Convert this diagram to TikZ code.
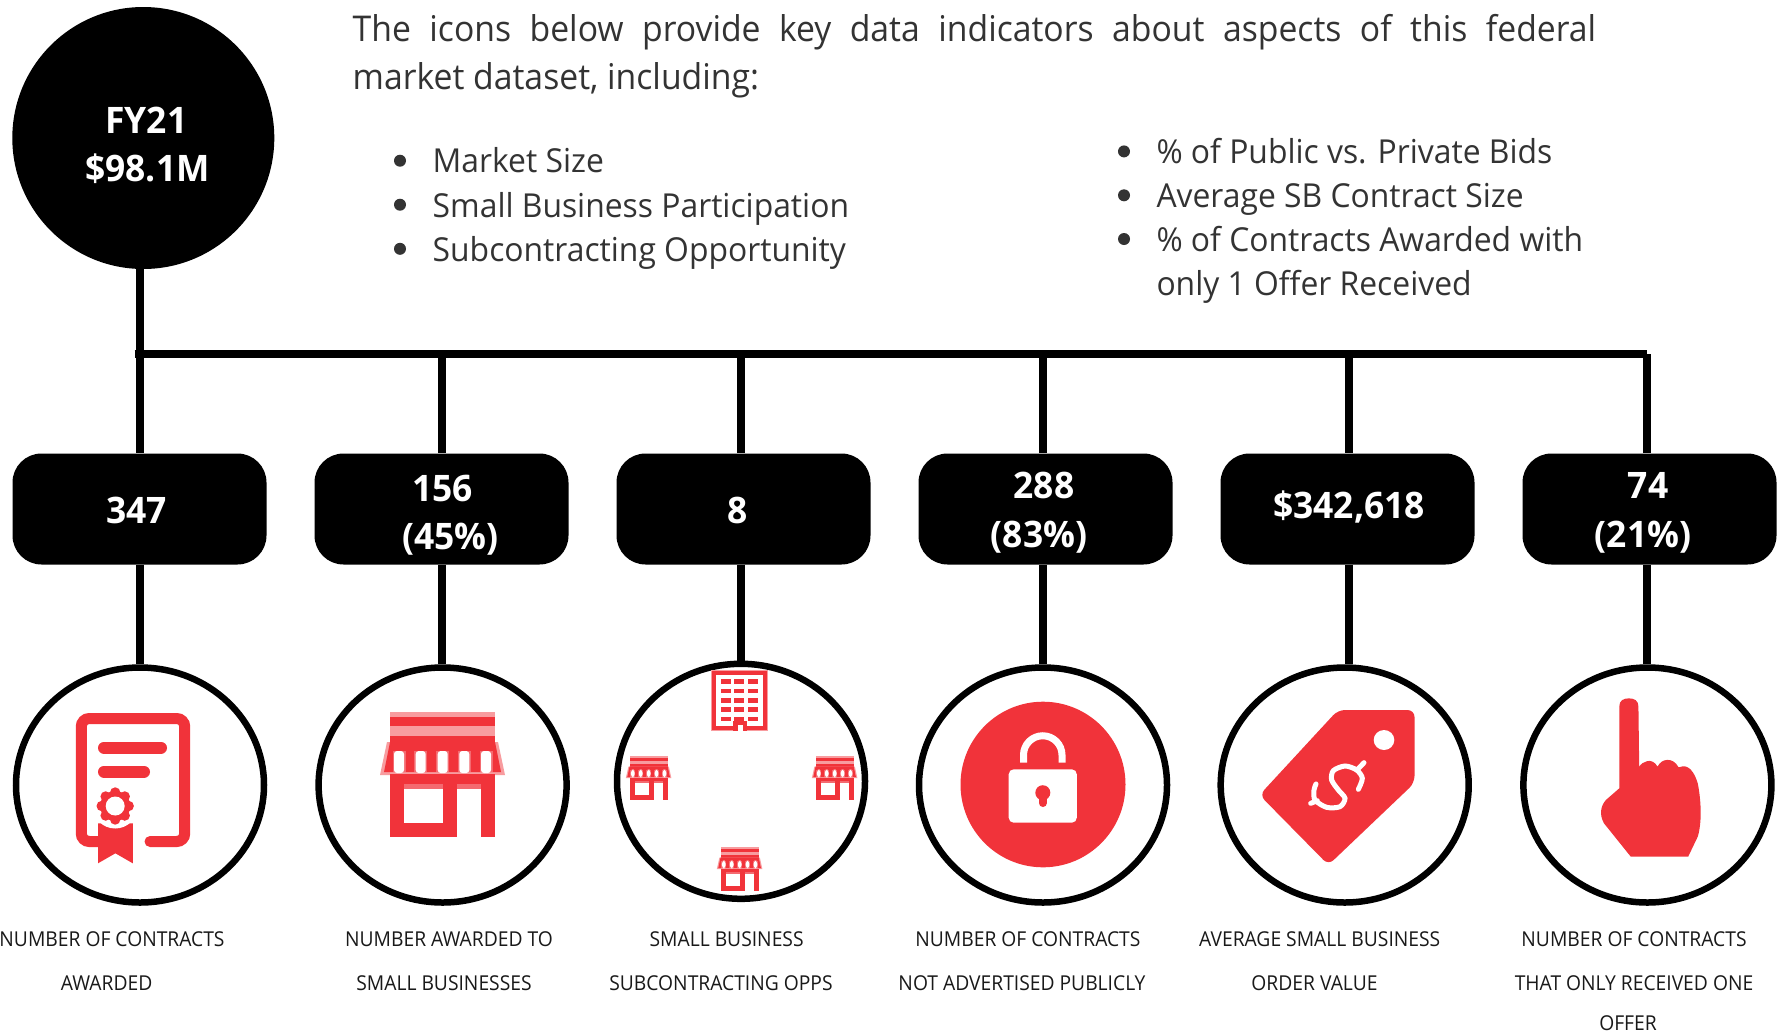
\documentclass[tikz,border=0pt]{standalone}
\usepackage{fontspec}
\usetikzlibrary{shapes.geometric}
\setmainfont{Open Sans}
\newfontfamily\introf[FakeStretch=0.95]{Open Sans}
\newfontfamily\listf[FakeStretch=0.965]{Open Sans}
\newfontfamily\labf[FakeStretch=0.94]{Open Sans}
\newfontfamily\boldf[FakeStretch=0.97]{Open Sans Bold}
\definecolor{ired}{HTML}{F1333A}
\definecolor{ilight}{HTML}{F89C9F}
\definecolor{ipink}{HTML}{F46A70}
\definecolor{itext}{HTML}{333333}
\tikzset{
  x=1pt,y=-1pt,
  bigtxt/.style={anchor=base west,text=itext,inner sep=0pt,font=\introf\fontsize{35.5}{40}\selectfont},
  listtxt/.style={anchor=base west,text=itext,inner sep=0pt,font=\listf\fontsize{33}{40}\selectfont},
  dotmark/.style={circle,fill=itext,draw=none,minimum size=12pt,inner sep=0pt},
  valtxt/.style={anchor=base,text=white,inner sep=0pt,font=\boldf\fontsize{36.5}{40}\selectfont},
  labtxt/.style={anchor=base,text=black!90,inner sep=0pt,font=\labf\fontsize{20.5}{24}\selectfont},
  valbox/.style={draw=none,fill=black,rounded corners=29pt,minimum width=254pt,minimum height=111pt,inner sep=0pt},
  iconring/.style={ellipse,draw=black,line width=6.5pt,fill=none,minimum width=248pt,minimum height=235pt,inner sep=0pt},
  link/.style={draw=black,line width=7.5pt},
  pics/storeicon/.style={code={
    \fill[ilight] (0,0) rectangle (105,24);
    \fill[ired] (0,4.7) rectangle (105,14);
    \fill[ired] (0,24) rectangle (105,38);
    \fill[ilight] (-3,30) -- (108,30) -- (115,63) -- (-10,63) -- cycle;
    \fill[ired] (0,30) -- (105,30) -- (111,60) -- (-6,60) -- cycle;
    \foreach \c in {9,30.7,52.7,74.3,96}{
      \fill[ipink] (\c-6.5,39) rectangle (\c+6.5,60);
      \fill[white,rounded corners=3pt] (\c-5,39) rectangle (\c+5,61);
    }
    \fill[ired] (0,62) rectangle (105,125);
    \fill[ipink] (14,72) rectangle (53,77);
    \fill[ipink] (67,72) rectangle (91,77);
    \fill[white] (14,77) rectangle (53,111);
    \fill[white] (67,77) rectangle (91,125);
  }}
}
\begin{document}
\begin{tikzpicture}
\useasboundingbox (0,0) rectangle (1783,1034);
\fill[white] (0,0) rectangle (1783,1034);

% top circle
\node[ellipse,fill=black,minimum width=262pt,minimum height=262pt,inner sep=0pt] (top) at (143.3,138) {};
\node[valtxt] (topa) at (146.4,133.3) {FY21};
\node[valtxt] (topb) at (147.5,181.4) {\$98.1M};

% intro text
\node[bigtxt] (introa) at (352.5,41.6) {\makebox[1243.5pt][s]{The icons below provide key data indicators about aspects of this federal}};
\node[bigtxt] (introb) at (352.5,89.3) {market dataset, including:};

\node[dotmark] (la) at (400,160.7) {};
\node[dotmark] (lb) at (400,204.7) {};
\node[dotmark] (lc) at (400,248.8) {};
\node[listtxt] (lat) at (432.5,172.5) {Market Size};
\node[listtxt] (lbt) at (432.5,217) {Small Business Participation};
\node[listtxt] (lct) at (432.5,261) {Subcontracting Opportunity};

\node[dotmark] (ra) at (1124,151.4) {};
\node[dotmark] (rb) at (1124,195.3) {};
\node[dotmark] (rc) at (1124,239) {};
\node[listtxt] (rat) at (1156.3,163) {\% of Public vs. Private Bids};
\node[listtxt] (rbt) at (1156.3,207.2) {Average SB Contract Size};
\node[listtxt] (rct) at (1156.3,251) {\% of Contracts Awarded with};
\node[listtxt] (rdt) at (1156.3,295.4) {only 1 Offer Received};

% value boxes
\node[valbox] (b1) at (139.5,509) {};
\node[valbox] (b2) at (441.5,509) {};
\node[valbox] (b3) at (743.5,509) {};
\node[valbox] (b4) at (1045.5,509) {};
\node[valbox] (b5) at (1347.5,509) {};
\node[valbox] (b6) at (1649.5,509) {};

% rings
\node[iconring] (c1) at (140,785) {};
\node[iconring] (c2) at (442.6,785) {};
\node[iconring] (c3) at (741,781.3) {};
\node[iconring] (c4) at (1043,785) {};
\node[iconring] (c5) at (1344.7,785) {};
\node[iconring] (c6) at (1647.4,785) {};

% bus
\coordinate (busl) at (134.5,354);
\coordinate (j1) at (140,354);
\coordinate (j2) at (442,354);
\coordinate (j3) at (741,354);
\coordinate (j4) at (1043,354);
\coordinate (j5) at (1349,354);
\coordinate (j6) at (1647,354);
\draw[link,line width=8pt] (busl) -- (j6);
\draw[link] (top.south -| j1) -- (b1.north -| j1);
\foreach \i in {2,...,6}{ \draw[link] (j\i) -- (b\i.north -| j\i); }
\foreach \i in {1,2,4,5,6}{ \draw[link] (b\i.south -| j\i) -- (c\i.north -| j\i); }
\coordinate (c3in) at (741,667);
\draw[link] (b3.south -| j3) -- (c3in);

% value texts
\node[valtxt] (v1) at (136.6,523) {347};
\node[valtxt] (v2a) at (442.6,501.3) {156};
\node[valtxt] (v2b) at (450.6,549.4) {(45\%)};
\node[valtxt] (v3) at (737.6,523) {8};
\node[valtxt] (v4a) at (1044,498) {288};
\node[valtxt] (v4b) at (1039,547) {(83\%)};
\node[valtxt] (v5) at (1349,518.8) {\$342,618};
\node[valtxt] (v6a) at (1648,498) {74};
\node[valtxt] (v6b) at (1643,547) {(21\%)};

% captions
\node[labtxt] (t1a) at (112,946) {NUMBER OF CONTRACTS};
\node[labtxt] (t1b) at (106.7,990) {AWARDED};
\node[labtxt] (t2a) at (449,946) {NUMBER AWARDED TO};
\node[labtxt] (t2b) at (444,990) {SMALL BUSINESSES};
\node[labtxt] (t3a) at (726.6,946) {SMALL BUSINESS};
\node[labtxt] (t3b) at (721,990) {SUBCONTRACTING OPPS};
\node[labtxt] (t4a) at (1027.9,946) {NUMBER OF CONTRACTS};
\node[labtxt] (t4b) at (1022,990) {NOT ADVERTISED PUBLICLY};
\node[labtxt] (t5a) at (1319.7,946) {AVERAGE SMALL BUSINESS};
\node[labtxt] (t5b) at (1314.5,990) {ORDER VALUE};
\node[labtxt] (t6a) at (1634,946) {NUMBER OF CONTRACTS};
\node[labtxt] (t6b) at (1634,990) {THAT ONLY RECEIVED ONE};
\node[labtxt] (t6c) at (1628,1030) {OFFER};

% certificate icon
\draw[ired,line width=11pt,rounded corners=8pt,line cap=round]
  (150,841.5) -- (184.7,841.5) -- (184.7,718.5) -- (81.3,718.5) -- (81.3,841.5) -- (100,841.5);
\draw[ired,line width=12pt,line cap=round] (104,747.7) -- (161,747.7);
\draw[ired,line width=12pt,line cap=round] (104,771.7) -- (144,771.7);
\fill[ired] (98,823.3) -- (132.8,823.3) -- (132.8,863.3) -- (115.4,853.3) -- (98,863.3) -- cycle;
\fill[white] (115.2,806) circle (22.5pt);
\foreach \a in {0,45,...,315}{ \fill[ired] (115.2,806) ++(\a:13.5pt) circle (5.2pt); }
\fill[ired] (115.2,806) circle (15pt);
\fill[white] (115.2,806) circle (9.5pt);

% store icons
\pic (s1) at (390,712) {storeicon};
\pic[xscale=.364,yscale=.35] (s2) at (629.5,756) {storeicon};
\pic[xscale=.364,yscale=.35] (s3) at (815.5,756) {storeicon};
\pic[xscale=.364,yscale=.35] (s4) at (720.5,847) {storeicon};

% building icon
\fill[ilight] (711,670) rectangle (767.5,730.7);
\fill[ired] (711.5,670.5) rectangle (767,730.2);
\fill[white] (715.5,674.5) rectangle (763,726.2);
\foreach \yy in {679.3,688.7,698,707.3,716.7}{
  \foreach \xx in {720.7,734.3,748.3}{
    \fill[ired] (\xx,\yy) rectangle ++(10,4.7);
  }
}
\fill[ired] (733,721) rectangle (747,731);
\fill[white] (737.5,725) rectangle (742.5,731);

% lock icon
\fill[ired] (1043,784.5) ellipse [x radius=82.5pt,y radius=82.8pt];
\draw[white,line width=7pt] (1023.5,762.7) -- (1023.5,755) arc[start angle=180,end angle=0,radius=19.25pt] -- (1062,762.7);
\fill[white,rounded corners=5pt] (1008.7,769.3) rectangle (1076.8,822.7);
\fill[ired] (1042.8,792.7) circle (7.5pt);
\draw[ired,line width=8pt,line cap=round] (1042.8,794) -- (1042.8,803);

% tag icon
\fill[ired,rounded corners=7pt] (1338,710) -- (1414.5,710) -- (1414.5,783) -- (1328.4,865) -- (1259.5,795) -- cycle;
\fill[white] (1384,740) ellipse [x radius=10.3pt,y radius=10pt];
\begin{scope}[shift={(1290,750)},scale=.3333]
  \draw[white,line width=5pt,line cap=round] plot[smooth] coordinates {(205,118) (217,85) (200,60) (165,48) (130,62) (125,90) (145,120) (165,145) (150,170) (110,172) (75,150) (72,120) (78,102)};
  \draw[white,line width=5pt,line cap=round] (222,38) -- (203,58);
  \draw[white,line width=5pt,line cap=round] (62,160) -- (82,152);
\end{scope}

% hand icon
\begin{scope}[shift={(1183,650)},xscale=.3827,yscale=.3333]
  \fill[ired] (1140,170) .. controls (1140,152) and (1150,145) .. (1165,145)
    .. controls (1180,145) and (1190,152) .. (1190,170) -- (1192,350)
    .. controls (1200,335) and (1225,320) .. (1240,350)
    .. controls (1250,325) and (1280,320) .. (1295,352)
    .. controls (1310,345) and (1330,345) .. (1345,400)
    .. controls (1352,440) and (1358,510) .. (1345,560) -- (1320,620) -- (1170,620)
    -- (1100,520) .. controls (1088,495) and (1090,470) .. (1105,450) -- (1140,415) -- cycle;
\end{scope}
\end{tikzpicture}
\end{document}
